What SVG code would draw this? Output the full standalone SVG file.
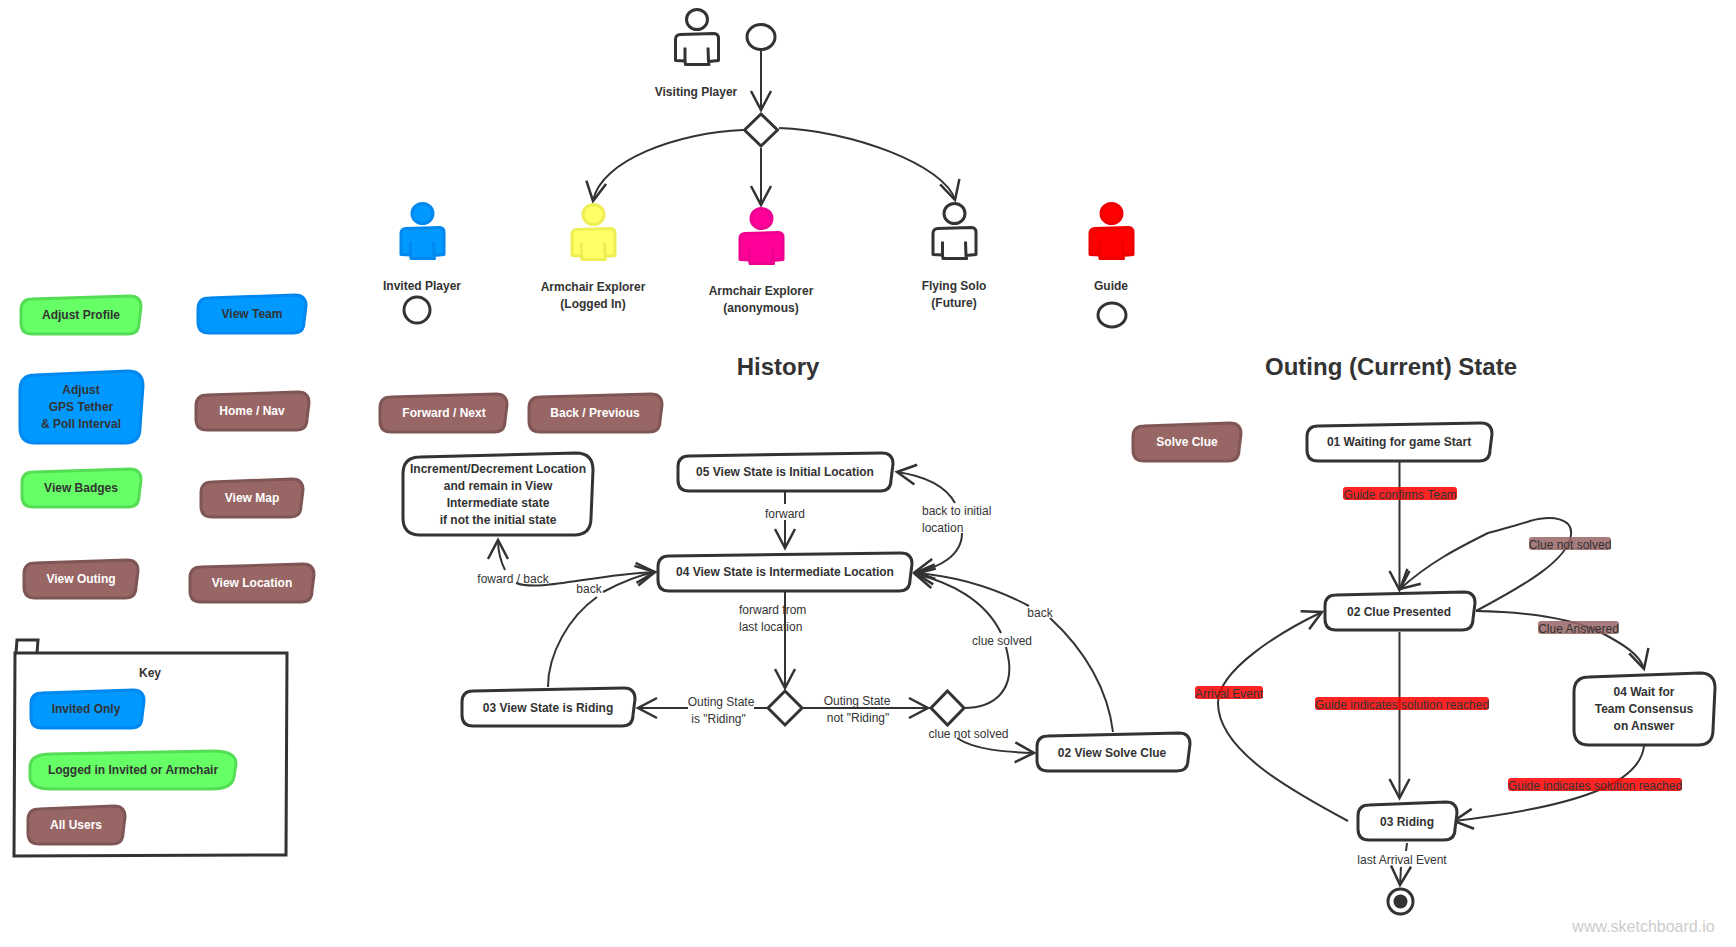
<svg xmlns="http://www.w3.org/2000/svg" width="1736" height="947" viewBox="0 0 1736 947">
<style>
text{font-family:"Liberation Sans",Arial,sans-serif;font-size:12px;fill:#333;text-anchor:middle}
.b{font-weight:bold}
.t{font-weight:bold;font-size:24px}
.w{fill:#fff;font-weight:bold}
.s{text-anchor:start}
.wm{font-size:16px;fill:#ccc}
.grn{fill:#66ff66;stroke:#55dd55;stroke-width:3}
.blu{fill:#0099ff;stroke:#0088ee;stroke-width:3}
.brn{fill:#996666;stroke:#805555;stroke-width:3}
.st{fill:#fff;stroke:#333;stroke-width:3}
.act{stroke-width:3;stroke-linejoin:round}
.aw{fill:#fff;stroke:#333}
.ay{fill:#ffff66;stroke:#eeee55}
.ab{fill:#0099ff;stroke:#0088ee}
.am{fill:#ff0099;stroke:#ee0090}
.ar{fill:#ff0000;stroke:#ee0000}
.c{fill:none;stroke:#333;stroke-width:2}
.a{marker-end:url(#open)}
.rl{fill:#ff0000;opacity:.86}
.bl{fill:#996666;opacity:.86}
</style>
<defs>
<marker id="open" markerUnits="userSpaceOnUse" markerWidth="24" markerHeight="24" viewBox="-21 -12 24 24" refX="0" refY="0" orient="auto"><path d="M-19,-10 L0,0 L-19,10" fill="none" stroke="#333" stroke-width="2.5"/></marker>
<g id="actor"><ellipse cx="0" cy="0" rx="10.5" ry="10"/><path d="M-21.5,41 V20 Q-21.5,15.5 -17,15 L17,14 Q21.5,14 21.5,19 V41 L11.5,42 L12,45 L-11.5,45 L-12,41.5 Z M-12,41.5 V28 M11.5,42 L11,28"/></g>
</defs>

<g id="connectors">
<path class="c a" d="M761,50 V110"/>
<path class="c a" d="M743,130 C680,132 600,160 593,201"/>
<path class="c a" d="M761,148 V205"/>
<path class="c a" d="M779,128 C850,130 945,165 955,200"/>

<path class="c a" d="M516,583 C540,592 590,575 655,572"/>
<path class="c a" d="M505,570 C500,560 498,550 498,540"/>
<path class="c" d="M548,687 C548,654 568.6,617 597,597"/>
<path class="c a" d="M603,592 C618,584 635,576 655,572"/>
<path class="c" d="M785,492 V504"/>
<path class="c a" d="M785,520 V548"/>
<path class="c a" d="M785,592 V688"/>
<path class="c" d="M767,708 H754"/>
<path class="c a" d="M688,708 H638"/>
<path class="c a" d="M803,708 H928"/>
<path class="c a" d="M955,503 C945,485 925,476 897,472"/>
<path class="c a" d="M962,533 C962,555 940,568 915,572"/>
<path class="c" d="M964,708 C995,708 1012,690 1009,662 Q1008,655 1006,647"/>
<path class="c a" d="M1001,633 C985,600 950,582 915,574"/>
<path class="c" d="M1113,732 C1108,690 1085,650 1050,618"/>
<path class="c a" d="M1029,606 C995,588 955,576 915,573"/>
<path class="c a" d="M957,738 C975,750 1005,752 1034,753"/>

<path class="c a" d="M1399.5,462 V590"/>
<path class="c a" d="M1476,611 C1525,585 1568,560 1571,535 C1573,518 1552,515 1530,521 C1515,526 1502,529 1488,533 C1458,548 1430,562 1400,589"/>
<path class="c a" d="M1476,611 C1530,612 1570,618 1600,632 C1625,645 1640,655 1644,669"/>
<path class="c a" d="M1399.5,632 V798"/>
<path class="c a" d="M1348,821 C1290,790 1218,750 1218,703 C1218,670 1280,632 1322,612"/>
<path class="c a" d="M1644,746 C1640,780 1590,805 1454,821"/>
<path class="c" d="M1407,843 L1406,851"/>
<path class="c a" d="M1401,867 L1400,885"/>

<text x="513" y="583">foward / back</text>
<text x="589" y="593">back</text>
<text x="785" y="518">forward</text>
<text class="s" x="739" y="614">forward from</text>
<text class="s" x="739" y="631">last location</text>
<text x="721" y="706">Outing State</text>
<text x="718.5" y="723">is "Riding"</text>
<text x="857" y="705">Outing State</text>
<text x="858" y="722">not "Riding"</text>
<text class="s" x="922" y="515">back to initial</text>
<text class="s" x="922" y="532">location</text>
<text x="1002" y="645">clue solved</text>
<text x="1040" y="617">back</text>
<text x="968.5" y="738">clue not solved</text>

<rect class="rl" x="1343" y="487" width="114" height="13" rx="3"/>
<text x="1400" y="499">Guide confirms Team</text>
<rect class="bl" x="1529" y="537" width="82" height="13" rx="3"/>
<text x="1570" y="549">Clue not solved</text>
<rect class="bl" x="1538" y="621" width="81" height="13" rx="3"/>
<text x="1578.5" y="633">Clue Answered</text>
<rect class="rl" x="1195" y="686" width="68" height="13" rx="3"/>
<text x="1229" y="698">Arrival Event</text>
<rect class="rl" x="1315" y="697" width="174" height="13" rx="3"/>
<text x="1402" y="709">Guide indicates solution reached</text>
<rect class="rl" x="1508" y="778" width="174" height="13" rx="3"/>
<text x="1595" y="790">Guide indicates solution reached</text>
<text x="1402" y="864">last Arrival Event</text>
</g>

<g id="actor-visiting"><use href="#actor" class="act aw" x="697" y="19.5"/><text class="b" x="696" y="96">Visiting Player</text></g>
<g id="start-visiting"><ellipse cx="761" cy="37" rx="14" ry="12.5" fill="#fff" stroke="#333" stroke-width="3"/></g>
<g id="decision-top"><path class="st" d="M761,114 L777.5,130 L761,146 L744.5,130Z"/></g>
<g id="actor-invited"><use href="#actor" class="act ab" x="422.5" y="213.5"/><text class="b" x="422" y="290">Invited Player</text></g>
<g id="start-invited"><ellipse cx="417" cy="310" rx="13" ry="13" fill="#fff" stroke="#333" stroke-width="3"/></g>
<g id="actor-armchair-logged"><use href="#actor" class="act ay" x="593.5" y="214.5"/><text class="b" x="593" y="291">Armchair Explorer</text><text class="b" x="593" y="308">(Logged In)</text></g>
<g id="actor-armchair-anon"><use href="#actor" class="act am" x="761.5" y="218.5"/><text class="b" x="761" y="295">Armchair Explorer</text><text class="b" x="761" y="312">(anonymous)</text></g>
<g id="actor-flying"><use href="#actor" class="act aw" x="954.5" y="213.5"/><text class="b" x="954" y="290">Flying Solo</text><text class="b" x="954" y="307">(Future)</text></g>
<g id="actor-guide"><use href="#actor" class="act ar" x="1111.5" y="213.5"/><text class="b" x="1111" y="290">Guide</text></g>
<g id="start-guide"><ellipse cx="1112" cy="315" rx="14" ry="12" fill="#fff" stroke="#333" stroke-width="3"/></g>

<g id="btn-adjust-profile"><path class="grn" d="M32,299 l98,-3 q11,0 11,11 l-2,16 q0,11 -11,11 h-96 q-11,0 -11,-11 V310 q0,-11 11,-11Z"/><text class="b" x="81" y="319">Adjust Profile</text></g>
<g id="btn-view-team"><path class="blu" d="M209,298 l86,-3 q11,0 11,11 l-2,16 q0,11 -11,11 h-84 q-11,0 -11,-11 V309 q0,-11 11,-11Z"/><text class="b" x="252" y="318">View Team</text></g>
<g id="btn-gps"><path class="blu" d="M35,375 l93,-4 q15,0 15,15 l-3,42 q0,15 -15,15 h-90 q-15,0 -15,-15 V390 q0,-15 15,-15Z"/><text class="b" x="81" y="394">Adjust</text><text class="b" x="81" y="411">GPS Tether</text><text class="b" x="81" y="428">&amp; Poll Interval</text></g>
<g id="btn-home"><path class="brn" d="M207,395 l91,-3 q11,0 11,11 l-2,16 q0,11 -11,11 h-89 q-11,0 -11,-11 V406 q0,-11 11,-11Z"/><text class="w" x="252" y="415">Home / Nav</text></g>
<g id="btn-badges"><path class="grn" d="M33,472 l97,-3 q11,0 11,11 l-2,16 q0,11 -11,11 h-95 q-11,0 -11,-11 V483 q0,-11 11,-11Z"/><text class="b" x="81" y="492">View Badges</text></g>
<g id="btn-map"><path class="brn" d="M212,482 l80,-3 q11,0 11,11 l-2,16 q0,11 -11,11 h-78 q-11,0 -11,-11 V493 q0,-11 11,-11Z"/><text class="w" x="252" y="502">View Map</text></g>
<g id="btn-outing"><path class="brn" d="M35,563 l92,-3 q11,0 11,11 l-2,16 q0,11 -11,11 h-90 q-11,0 -11,-11 V574 q0,-11 11,-11Z"/><text class="w" x="81" y="583">View Outing</text></g>
<g id="btn-location"><path class="brn" d="M201,567 l102,-3 q11,0 11,11 l-2,16 q0,11 -11,11 h-100 q-11,0 -11,-11 V578 q0,-11 11,-11Z"/><text class="w" x="252" y="587">View Location</text></g>

<g id="key"><path d="M16,653 L17,640 H38 L37,653" fill="none" stroke="#333" stroke-width="3"/><path d="M15,653 H287 L286,855 L14,856Z" fill="#fff" stroke="#333" stroke-width="3"/><text class="b" x="150" y="677">Key</text>
<g id="key-invited"><path class="blu" d="M42,693 l91,-3 q11,0 11,11 l-2,16 q0,11 -11,11 h-89 q-11,0 -11,-11 V704 q0,-11 11,-11Z"/><text class="b" x="86" y="713">Invited Only</text></g>
<g id="key-logged"><path class="grn" d="M51,754 l163,-3 q22,0 22,13 l-2,13 q-2,12 -22,12 h-161 q-21,0 -21,-12 V767 q0,-13 21,-13Z"/><text class="b" x="133" y="774">Logged in Invited or Armchair</text></g>
<g id="key-all"><path class="brn" d="M39,809 l75,-3 q11,0 11,11 l-2,16 q0,11 -11,11 h-73 q-11,0 -11,-11 V820 q0,-11 11,-11Z"/><text class="w" x="76" y="829">All Users</text></g>
</g>

<text id="title-history" class="t" x="778" y="375">History</text>
<text id="title-outing" class="t" x="1391" y="375">Outing (Current) State</text>

<g id="btn-forward"><path class="brn" d="M391,397 l105,-3 q11,0 11,11 l-2,16 q0,11 -11,11 h-103 q-11,0 -11,-11 V408 q0,-11 11,-11Z"/><text class="w" x="444" y="417">Forward / Next</text></g>
<g id="btn-back"><path class="brn" d="M540,397 l111,-3 q11,0 11,11 l-2,16 q0,11 -11,11 h-109 q-11,0 -11,-11 V408 q0,-11 11,-11Z"/><text class="w" x="595" y="417">Back / Previous</text></g>
<g id="state-increment"><path class="st" d="M420,457 l156,-4 q17,0 17,17 l-2,48 q0,17 -17,17 h-154 q-17,0 -17,-17 V474 q0,-17 17,-17Z"/><text class="b" x="498" y="473">Increment/Decrement Location</text><text class="b" x="498" y="490">and remain in View</text><text class="b" x="498" y="507">Intermediate state</text><text class="b" x="498" y="524">if not the initial state</text></g>
<g id="state-05"><path class="st" d="M689,456 l193,-3 q11,0 11,11 l-2,16 q0,11 -11,11 h-191 q-11,0 -11,-11 V467 q0,-11 11,-11Z"/><text class="b" x="785" y="476">05 View State is Initial Location</text></g>
<g id="state-04"><path class="st" d="M669,556 l232,-3 q11,0 11,11 l-2,16 q0,11 -11,11 h-230 q-11,0 -11,-11 V567 q0,-11 11,-11Z"/><text class="b" x="785" y="576">04 View State is Intermediate Location</text></g>
<g id="state-03"><path class="st" d="M473,691 l151,-3 q11,0 11,11 l-2,16 q0,11 -11,11 h-149 q-11,0 -11,-11 V702 q0,-11 11,-11Z"/><text class="b" x="548" y="712">03 View State is Riding</text></g>
<g id="state-02"><path class="st" d="M1048,736 l131,-3 q11,0 11,11 l-2,16 q0,11 -11,11 h-129 q-11,0 -11,-11 V747 q0,-11 11,-11Z"/><text class="b" x="1112" y="757">02 View Solve Clue</text></g>
<g id="decision-1"><path class="st" d="M785,691 L802,708 L785,725 L768,708Z"/></g>
<g id="decision-2"><path class="st" d="M947.5,691 L964,708 L947.5,725 L931,708Z"/></g>

<g id="btn-solve"><path class="brn" d="M1144,426 l86,-3 q11,0 11,11 l-2,16 q0,11 -11,11 h-84 q-11,0 -11,-11 V437 q0,-11 11,-11Z"/><text class="w" x="1187" y="446">Solve Clue</text></g>
<g id="outing-01"><path class="st" d="M1318,426 l163,-3 q11,0 11,11 l-2,16 q0,11 -11,11 h-161 q-11,0 -11,-11 V437 q0,-11 11,-11Z"/><text class="b" x="1399" y="446">01 Waiting for game Start</text></g>
<g id="outing-02"><path class="st" d="M1336,595 l128,-3 q11,0 11,11 l-2,16 q0,11 -11,11 h-126 q-11,0 -11,-11 V606 q0,-11 11,-11Z"/><text class="b" x="1399" y="616">02 Clue Presented</text></g>
<g id="outing-04"><path class="st" d="M1589,677 l111,-4 q15,0 15,15 l-2,42 q0,15 -15,15 h-109 q-15,0 -15,-15 V692 q0,-15 15,-15Z"/><text class="b" x="1644" y="696">04 Wait for</text><text class="b" x="1644" y="713">Team Consensus</text><text class="b" x="1644" y="730">on Answer</text></g>
<g id="outing-03"><path class="st" d="M1369,805 l77,-3 q11,0 11,11 l-2,16 q0,11 -11,11 h-75 q-11,0 -11,-11 V816 q0,-11 11,-11Z"/><text class="b" x="1407" y="826">03 Riding</text></g>
<g id="end-state"><ellipse cx="1400.5" cy="901.5" rx="12.5" ry="12.5" fill="#fff" stroke="#333" stroke-width="3"/><circle cx="1400.5" cy="901.5" r="7" fill="#333"/></g>

<text class="wm" x="1643.5" y="932">www.sketchboard.io</text>
</svg>
